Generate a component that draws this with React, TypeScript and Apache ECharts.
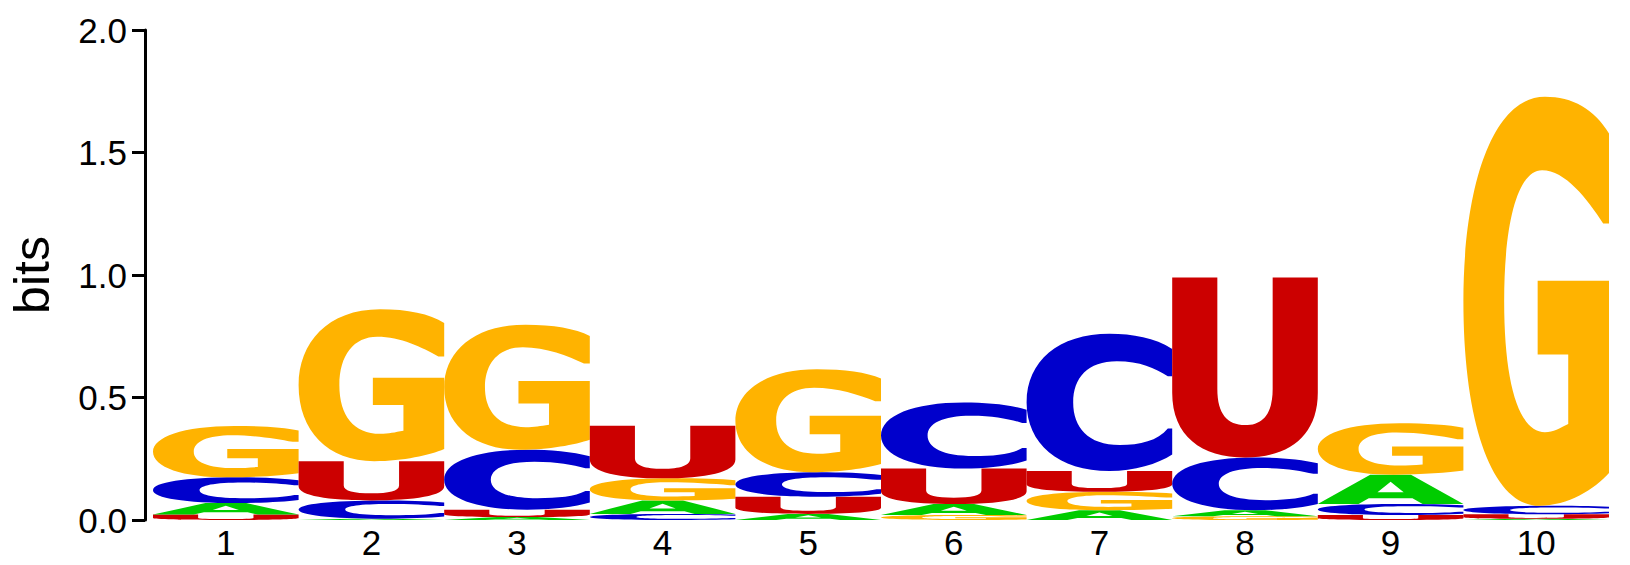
import React, { useEffect, useRef } from "react";
import * as echarts from "echarts";

// ---- data ----
const positions = ["1", "2", "3", "4", "5", "6", "7", "8", "9", "10"];
const letters = ["A", "C", "G", "U"];
const bitsA = [0.047, 0.005, 0.012, 0.055, 0.025, 0.045, 0.04, 0.025, 0.12, 0.005];
const bitsC = [0.105, 0.075, 0.245, 0.025, 0.1, 0.27, 0.56, 0.215, 0.045, 0.035];
const bitsG = [0.21, 0.62, 0.51, 0.09, 0.42, 0.02, 0.075, 0.015, 0.21, 1.67];
const bitsU = [0.022, 0.16, 0.03, 0.215, 0.07, 0.145, 0.085, 0.735, 0.02, 0.018];
const yTicks = [0, 0.5, 1, 1.5, 2];

const letterColors: Record<string, string> = {
  A: "#00CC00",
  C: "#0000CC",
  G: "#FFB300",
  U: "#CC0000",
};

// glyph outlines in a 100x100 box (scaled to each letter's cell)
const glyphs: Record<string, string> = {
  A: "M0,100 L36,0 L64,0 L100,100 L72,100 L65,80 L35,80 L28,100 Z M50,24 L41,60 L59,60 Z",
  C: "M100,11 C88,3 73,0 57,0 C22,0 0,20 0,50 C0,80 22,100 57,100 C74,100 90,95 100,88 L100,69 L97,69 C90,78 78,81 64,81 C42,81 32,68 32,50 C32,32 42,20 62,20 C78,20 88,25 97,31 L100,31 Z",
  G: "M100,9 C90,3 75,0 56,0 C20,0 0,22 0,50 C0,80 20,100 52,100 C72,100 90,96 100,92 L100,45 L51,45 L51,63 L72,63 L72,80 C66,81 62,82 56,82 C38,82 28,70 28,50 C28,30 38,18 54,18 C70,18 85,25 96,31 L100,31 Z",
  U: "M0,0 L31,0 L31,62 C31,76 38,82 50,82 C62,82 69,76 69,62 L69,0 L100,0 L100,64 C100,88 80,100 50,100 C20,100 0,88 0,64 Z",
};

const valuesByLetter: Record<string, number[]> = { A: bitsA, C: bitsC, G: bitsG, U: bitsU };

function buildStacks() {
  const out: number[][] = [];
  positions.forEach((_, i) => {
    const items = letters
      .map((l, li) => ({ li, v: valuesByLetter[l][i] }))
      .sort((a, b) => a.v - b.v);
    let base = 0;
    items.forEach((it) => {
      out.push([i, base, it.v, it.li]);
      base += it.v;
    });
  });
  return out;
}

const FONT = "'Liberation Sans', Arial, sans-serif";

export default function App() {
  const ref = useRef<HTMLDivElement>(null);
  useEffect(() => {
    if (!ref.current) return;
    const chart = echarts.init(ref.current, undefined, { renderer: "svg" });
    const data = buildStacks();
    chart.setOption({
      animation: false,
      backgroundColor: "#ffffff",
      grid: {
        left: 153,
        right: 21,
        top: 30,
        bottom: 45,
        containLabel: false,
        outerBoundsMode: "none",
      },
      xAxis: {
        type: "category",
        data: positions,
        boundaryGap: true,
        axisLine: { show: false },
        axisTick: { show: false },
        splitLine: { show: false },
        axisLabel: {
          color: "#000",
          fontSize: 35,
          fontFamily: FONT,
          margin: 5,
        },
      },
      yAxis: {
        type: "value",
        min: yTicks[0],
        max: yTicks[yTicks.length - 1],
        interval: 0.5,
        offset: 8,
        name: "bits",
        nameLocation: "middle",
        nameRotate: 90,
        nameGap: 88,
        nameTextStyle: { color: "#000", fontSize: 50, fontFamily: FONT },
        axisLine: { show: true, lineStyle: { color: "#000", width: 3 } },
        axisTick: { show: true, length: 13, lineStyle: { color: "#000", width: 3 } },
        splitLine: { show: false },
        axisLabel: {
          color: "#000",
          fontSize: 35,
          fontFamily: FONT,
          margin: 18,
          formatter: (v: number) => v.toFixed(1),
        },
      },
      series: [
        {
          type: "custom",
          clip: false,
          encode: { x: 0, y: 1 },
          data,
          renderItem: (params: any, api: any) => {
            const i = api.value(0);
            const base = api.value(1);
            const h = api.value(2);
            const li = api.value(3);
            const p0 = api.coord([i, base]);
            const p1 = api.coord([i, base + h]);
            const w = api.size([1, 0])[0];
            const l = letters[li];
            return {
              type: "path",
              shape: {
                pathData: glyphs[l],
                x: p0[0] - w / 2,
                y: p1[1],
                width: w,
                height: Math.max(p0[1] - p1[1], 0.01),
                layout: "cover",
              },
              style: { fill: letterColors[l] },
            };
          },
        },
      ],
    });
    return () => chart.dispose();
  }, []);
  return (
    <div
      ref={ref}
      style={{ position: "absolute", left: 0, top: 0, width: 1630, height: 565 }}
    />
  );
}
